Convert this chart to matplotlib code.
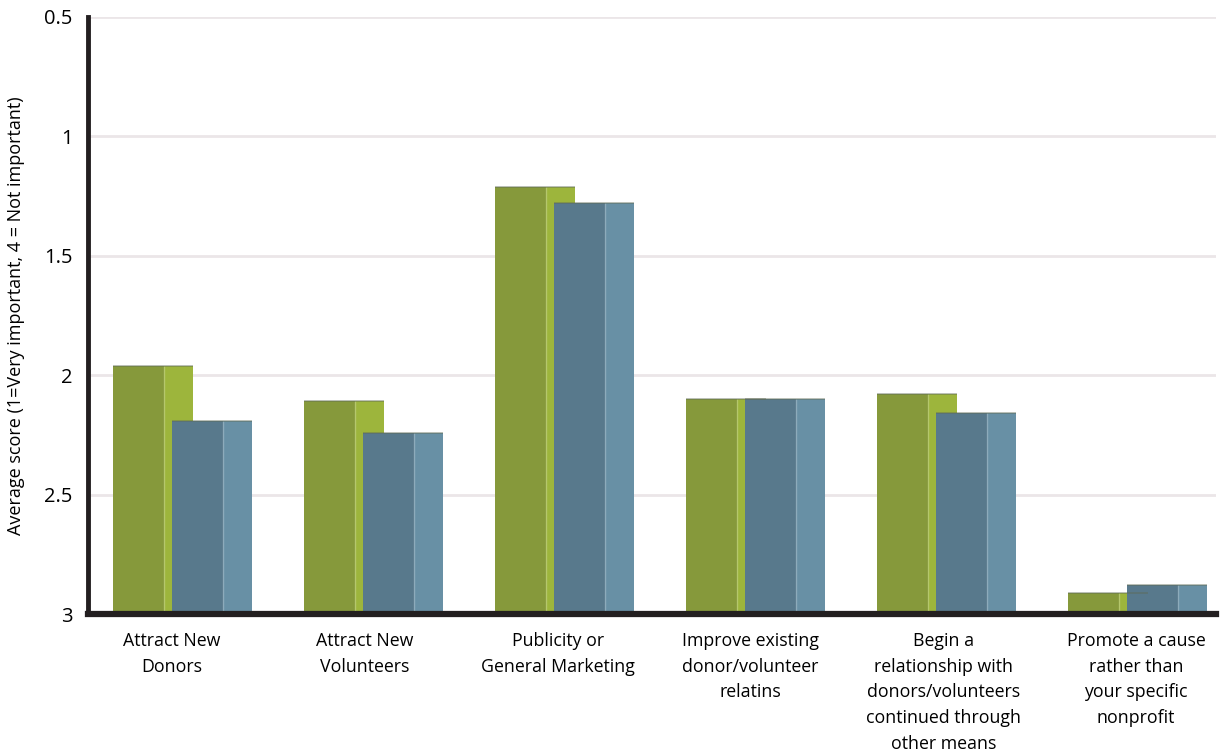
import numpy as np
import matplotlib.pyplot as plt

# data
categories = ['Attract New\nDonors', 'Attract New\nVolunteers', 'Publicity or\nGeneral Marketing',
              'Improve existing\ndonor/volunteer\nrelatins',
              'Begin a\nrelationship with\ndonors/volunteers\ncontinued through\nother means',
              'Promote a cause\nrather than\nyour specific\nnonprofit']
green_vals = [1.96, 2.11, 1.21, 2.10, 2.08, 2.91]
blue_vals = [2.19, 2.24, 1.28, 2.10, 2.16, 2.88]

plt.rcParams['font.family'] = ['Open Sans', 'DejaVu Sans']

fig = plt.figure(figsize=(12.21, 7.52), dpi=100)
ax = fig.add_axes([88 / 1221, 1 - 614 / 752, (1216 - 88) / 1221, (614 - 17) / 752])

x = np.arange(len(categories))
base = 3.0
front_w, side_w = 0.267, 0.152

def draw_box(xs, vals, front_c, side_c):
    vals = np.array(vals)
    ax.bar(xs, vals - base, bottom=base, width=front_w, align='edge', color=front_c, zorder=3)
    ax.bar(xs + front_w, vals - base, bottom=base, width=side_w, align='edge', color=side_c, zorder=3)
    ax.vlines(xs + front_w, vals, base, color='#ffffff', alpha=0.25, lw=1, zorder=4)
    ax.hlines(vals, xs, xs + front_w + side_w, color='#5f6a55', alpha=0.5, lw=1.2, zorder=4)

draw_box(x - 0.364, green_vals, '#86993b', '#9db53c')
draw_box(x - 0.055, blue_vals, '#58798c', '#6890a5')

ax.set_ylim(3, 0.5)
ax.set_xlim(-0.495, 5.41)
ax.set_yticks([0.5, 1, 1.5, 2, 2.5, 3])
ax.set_yticklabels(['0.5', '1', '1.5', '2', '2.5', '3'])
ax.set_xticks(x * 1.0094 - 0.055)
ax.set_xticklabels(categories, va='top', fontsize=12.8, linespacing=1.55)
ax.tick_params(axis='y', length=0, labelsize=14.5, pad=11)
ax.tick_params(axis='x', length=0, pad=13)
ax.yaxis.grid(True, color='#ebe6e8', lw=2, zorder=0)
ax.set_axisbelow(True)

for s in ['top', 'right']:
    ax.spines[s].set_visible(False)
ax.spines['left'].set_linewidth(3.5)
ax.spines['left'].set_color('#231f20')
ax.spines['bottom'].set_linewidth(4.5)
ax.spines['bottom'].set_color('#231f20')
ax.spines['bottom'].set_zorder(5)

ax.set_ylabel('Average score (1=Very important, 4 = Not important)', fontsize=13, labelpad=14)

plt.savefig('out.png', dpi=100)
